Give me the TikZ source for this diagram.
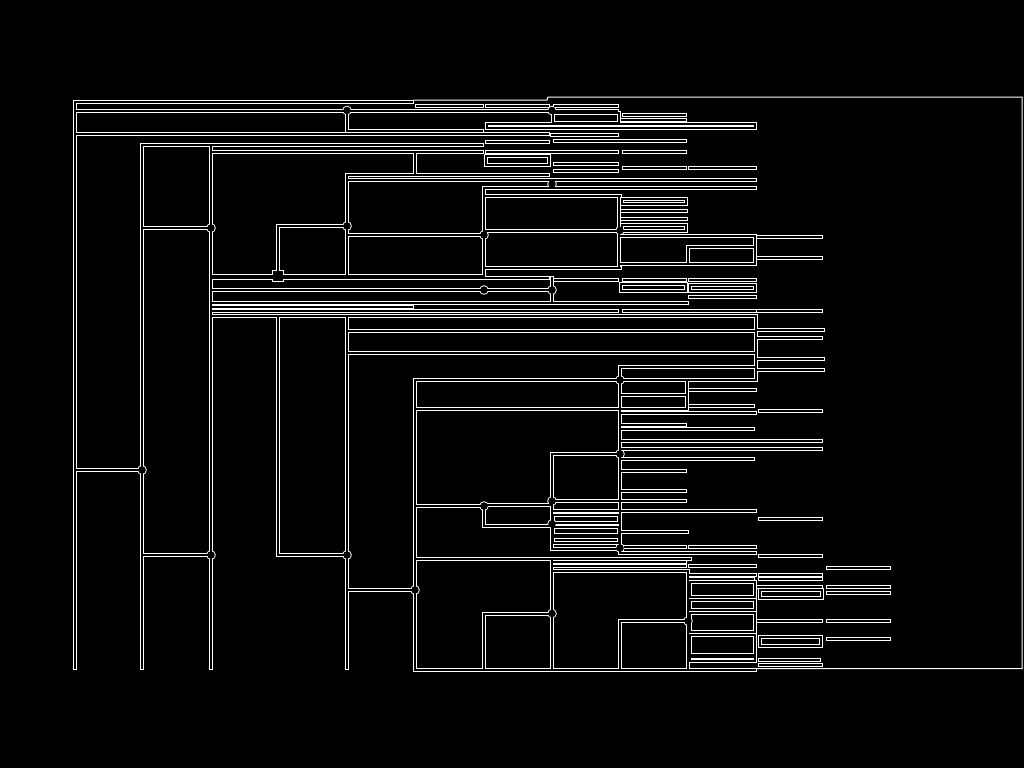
\documentclass[tikz,border=0pt]{standalone}
\begin{document}
\newcommand\HL{101.5/75/412, 105.5/417/482, 105.5/487/548, 105.5/555/617, 110.5/75/617, 114.5/624/685, 119.5/622/685,
130.5/347/482, 134/75/548, 135/552/617, 141.5/487/548, 141/555/685, 144.5/142/482, 151.5/211/482, 151.5/487/617, 151.5/624/685,
163.5/555/617, 167.5/624/685, 167.5/690/755, 170.5/555/617, 175/347/548, 180/347/755, 188/484/755, 195.5/484/620,
210.5/622/686, 219/622/686, 226/278/347, 228/142/211, 230.5/484/620, 235/347/484, 235.5/620/755, 237/758/821, 246.5/688/755,
258/758/821, 263.5/620/755, 267.5/484/620, 276/211/484, 278/211/548, 279.5/555/617, 279.5/624/685, 279.5/690/755,
290/211/552, 297/690/755, 303/211/687, 306.5/211/412, 311/211/617, 311/624/755, 311/758/821, 316/211/755,
329.5/758/823, 331/347/755, 337.5/758/821, 352.5/347/755, 359/758/823, 366.5/620/755, 370/758/823, 380/415/755,
389.5/690/755, 394.5/620/687, 405.5/690/753, 408.5/415/687, 410.5/760/821, 413/621/755, 424.5/621/685, 428.5/621/753,
440.5/621/821, 449/621/821, 454/552/620, 458.5/621/753, 470.5/621/685, 491/621/685, 501/552/685, 506/415/484,
504.5/484/550, 510.5/552/620, 510.5/621/755, 519/760/821, 526/484/550, 531.5/621/687, 548.5/552/617, 547/625/685,
547/690/755, 552.5/620/755, 555/142/211, 555/278/347, 555.5/760/821, 558.5/415/690, 562/552/685, 566/552/685,
565.5/690/755, 567.5/828/889, 570.5/552/687, 574.5/690/755, 574.5/760/821, 579/690/753, 579/760/821, 586.5/758/821,
586.5/828/889, 592.5/828/889, 590/347/415, 613.5/484/552, 621/620/687, 621/758/821, 621/828/889, 638.5/828/889,
660/760/819, 664.5/760/821, 669.5/415/755, 470/75/142}
\newcommand\VL{75/101.5/668, 142/144.5/668, 211/144.5/668, 278/226/276, 278/316/555, 347/110.5/130.5, 347/175/276,
347/316/668, 415/151.5/175, 415/380/668, 484/188/276, 484/504.5/526, 484/613.5/668, 552/278/303, 552/454/548.5,
552/558.5/668, 619/195.5/267.5, 620/366.5/552.5, 620/621/668, 687/380/408.5, 688/570.5/668, 755.5/316/352.5,
755.5/352.5/380, 688/246.5/263.5, 755/235.5/263.5}
\newcommand\RL{553/113/619/123, 487/124/755/128, 486/156/549/165, 622/199/686/204, 622/225/686/231, 621/284/686/291,
690/285/755/291, 553/515/619/523, 553/527/619/535, 553/537/619/543, 690/582/755/597, 760/590/822/598, 690/600/755/610,
690/613/755/632, 690/635/755/655, 760/637/821/646, 690/657/755/661}
\newcommand\DL{347/110.5, 552/110.5, 347/226, 211/228, 484/235, 620/230.5, 552/184, 484/290, 552/290, 142/470, 211/555,
347/555, 415/590, 620/380, 552/501, 484/506, 552/524, 620/548, 552/613.5, 688/621, 620/454}
\tikzset{outerline/.style={white,line width=3pt,line cap=rect},
         innerline/.style={black,line width=1.5pt,line cap=rect},
         frameline/.style={white,line width=0.75pt}}
\begin{tikzpicture}[x=0.75pt,y=-0.75pt]
\fill[black] (0,0) rectangle (1024,768);
% outer pass
\foreach \y/\a/\b in \HL {\draw[outerline] (\a,\y) -- (\b,\y);}
\foreach \x/\a/\b in \VL {\draw[outerline] (\x,\a) -- (\x,\b);}
\foreach \a/\b/\c/\d in \RL {\draw[outerline] (\a,\b) rectangle (\c,\d);}
\foreach \x/\y in \DL {\fill[white] (\x,\y) circle[radius=3.6pt];}
\fill[white] (272,270) rectangle (284,282);
% inner pass
\foreach \y/\a/\b in \HL {\draw[innerline] (\a,\y) -- (\b,\y);}
\foreach \x/\a/\b in \VL {\draw[innerline] (\x,\a) -- (\x,\b);}
\foreach \a/\b/\c/\d in \RL {\draw[innerline] (\a,\b) rectangle (\c,\d);}
\foreach \x/\y in \DL {\fill[black] (\x,\y) circle[radius=2.85pt];}
\fill[black] (273.3,271.3) rectangle (282.7,280.7);
% frame
\draw[frameline] (413,100) -- (547,100) -- (548,97) -- (1022,97) -- (1022,668.5) -- (757,668.5);
\end{tikzpicture}
\end{document}
